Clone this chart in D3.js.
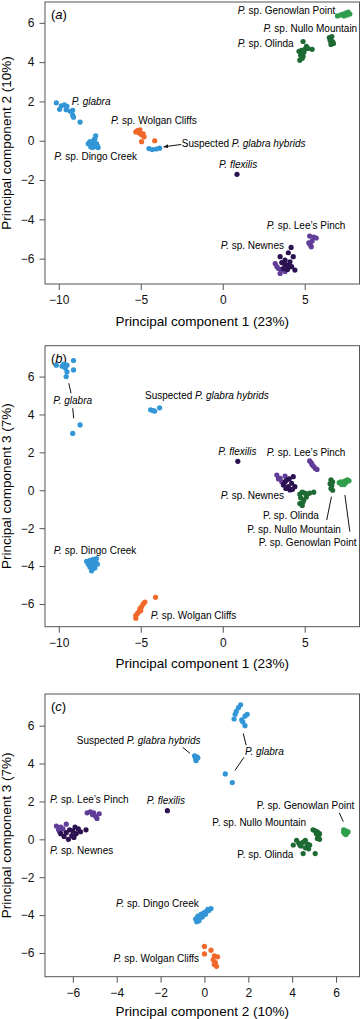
<!DOCTYPE html>
<html>
<head>
<meta charset="utf-8">
<script src="https://cdn.jsdelivr.net/npm/d3@7"></script>
<style>
  body { margin: 0; background: #fff; }
  svg { display: block; font-family: "Liberation Sans", Arial, sans-serif; }
</style>
</head>
<body>
<svg id="chart" width="363" height="1019"></svg>
<script>
// tick values
const pc1Ticks = [-10, -5, 0, 5];
const pc2Ticks = [-6, -4, -2, 0, 2, 4, 6];
const pc3Ticks = [-6, -4, -2, 0, 2, 4, 6];

// draw order of the groups
const groupOrder = ["glabra", "hybrids", "dingo", "wolgan", "lees", "newnes", "flexilis", "olinda", "nullo", "genowlan"];

// (a) PC1 vs PC2 : [group, pc1, pc2]
const pointsA = [
  ["glabra", -10.15, 1.93], ["glabra", -9.95, 1.6], ["glabra", -9.85, 1.78], ["glabra", -9.65, 1.82],
  ["glabra", -9.5, 1.75], ["glabra", -9.55, 1.58], ["glabra", -9.3, 1.5], ["glabra", -9.15, 1.55],
  ["glabra", -9.15, 1.3], ["glabra", -9.1, 1.2], ["glabra", -8.7, 0.95],
  ["dingo", -8.2, -0.15], ["dingo", -8.0, -0.1], ["dingo", -7.9, -0.2], ["dingo", -7.75, -0.3],
  ["dingo", -7.85, 0.05], ["dingo", -7.75, 0.25], ["dingo", -7.8, 0.1], ["dingo", -8.05, -0.3],
  ["dingo", -7.6, -0.35], ["dingo", -7.7, -0.15], ["dingo", -7.95, -0.35], ["dingo", -8.1, -0.05],
  ["dingo", -7.65, -0.25],
  ["hybrids", -4.5, -0.4], ["hybrids", -4.3, -0.45], ["hybrids", -4.05, -0.42], ["hybrids", -3.85, -0.38],
  ["wolgan", -5.3, 0.45], ["wolgan", -5.2, 0.52], ["wolgan", -5.05, 0.55], ["wolgan", -5.1, 0.4],
  ["wolgan", -4.95, 0.3], ["wolgan", -4.8, 0.2], ["wolgan", -4.85, 0.35], ["wolgan", -4.95, -0.05],
  ["wolgan", -4.15, 0.0],
  ["lees", 5.3, -4.85], ["lees", 5.55, -4.9], ["lees", 5.7, -4.95], ["lees", 5.25, -5.2],
  ["lees", 5.45, -5.1], ["lees", 5.35, -5.3], ["lees", 5.4, -5.4],
  ["lees", 3.2, -6.25], ["lees", 3.4, -6.5], ["lees", 3.5, -6.75], ["lees", 3.8, -6.65],
  ["lees", 3.3, -6.4], ["lees", 3.6, -6.55],
  ["newnes", 4.17, -5.43], ["newnes", 4.3, -5.9], ["newnes", 4.0, -5.7], ["newnes", 3.5, -5.9],
  ["newnes", 3.8, -6.07], ["newnes", 4.1, -6.16], ["newnes", 3.9, -6.33], ["newnes", 4.2, -6.41],
  ["newnes", 4.4, -6.58], ["newnes", 3.7, -6.5], ["newnes", 3.95, -6.55], ["newnes", 3.6, -6.2],
  ["newnes", 4.05, -6.35], ["newnes", 3.75, -6.25],
  ["flexilis", 0.87, -1.71],
  ["olinda", 4.9, 5.05], ["olinda", 5.1, 4.8], ["olinda", 5.45, 4.65], ["olinda", 4.65, 4.55],
  ["olinda", 4.8, 4.6], ["olinda", 4.95, 4.5], ["olinda", 4.75, 4.35], ["olinda", 4.9, 4.3],
  ["olinda", 4.7, 4.1], ["olinda", 4.85, 4.2], ["olinda", 5.0, 4.65], ["olinda", 5.2, 4.7],
  ["nullo", 6.5, 5.25], ["nullo", 6.65, 5.3], ["nullo", 6.55, 5.1], ["nullo", 6.7, 5.05],
  ["nullo", 6.6, 4.9], ["nullo", 6.75, 4.95],
  ["genowlan", 7.0, 6.35], ["genowlan", 7.2, 6.4], ["genowlan", 7.35, 6.45], ["genowlan", 7.5, 6.5],
  ["genowlan", 7.65, 6.55], ["genowlan", 7.75, 6.45], ["genowlan", 7.4, 6.35], ["genowlan", 7.6, 6.4]
];

// (b) PC1 vs PC3
const pointsB = [
  ["glabra", -10.15, 6.6], ["glabra", -9.8, 6.55], ["glabra", -9.7, 6.65], ["glabra", -9.5, 6.6],
  ["glabra", -9.6, 6.45], ["glabra", -9.1, 6.85], ["glabra", -9.1, 6.35], ["glabra", -9.5, 6.25],
  ["glabra", -9.55, 6.0], ["glabra", -8.7, 3.45], ["glabra", -9.15, 3.0],
  ["hybrids", -4.4, 4.25], ["hybrids", -4.25, 4.2], ["hybrids", -4.15, 4.18], ["hybrids", -3.85, 4.35],
  ["dingo", -8.3, -3.75], ["dingo", -8.1, -3.7], ["dingo", -7.9, -3.65], ["dingo", -7.7, -3.6],
  ["dingo", -7.8, -3.8], ["dingo", -8.0, -3.85], ["dingo", -8.2, -3.9], ["dingo", -7.65, -3.9],
  ["dingo", -7.9, -4.0], ["dingo", -8.1, -4.05], ["dingo", -7.8, -4.1], ["dingo", -8.0, -4.25],
  ["dingo", -7.95, -4.15], ["dingo", -7.75, -3.75], ["dingo", -8.05, -3.95],
  ["wolgan", -4.75, -5.9], ["wolgan", -4.85, -6.0], ["wolgan", -4.95, -6.15], ["wolgan", -5.05, -6.25],
  ["wolgan", -5.1, -6.4], ["wolgan", -5.2, -6.5], ["wolgan", -5.3, -6.6], ["wolgan", -5.3, -6.75],
  ["wolgan", -5.0, -6.35], ["wolgan", -4.1, -5.65],
  ["lees", 5.3, 1.55], ["lees", 5.4, 1.45], ["lees", 5.45, 1.35], ["lees", 5.55, 1.25],
  ["lees", 5.65, 1.15], ["lees", 5.75, 1.1],
  ["lees", 3.3, 0.8], ["lees", 3.5, 0.63], ["lees", 3.8, 0.75], ["lees", 3.6, 0.45], ["lees", 3.4, 0.6],
  ["newnes", 4.3, 0.72], ["newnes", 3.9, 0.54], ["newnes", 4.2, 0.37], ["newnes", 3.7, 0.28],
  ["newnes", 4.0, 0.19], ["newnes", 4.4, 0.19], ["newnes", 4.1, 0.02], ["newnes", 3.8, 0.45],
  ["newnes", 4.05, 0.6], ["newnes", 3.85, 0.1], ["newnes", 4.25, 0.05],
  ["flexilis", 0.92, 1.53],
  ["olinda", 4.7, -0.2], ["olinda", 4.85, -0.1], ["olinda", 5.0, -0.15], ["olinda", 5.15, -0.2],
  ["olinda", 5.3, -0.15], ["olinda", 5.55, -0.1], ["olinda", 4.75, -0.4], ["olinda", 4.95, -0.5],
  ["olinda", 5.1, -0.35], ["olinda", 4.7, -0.7], ["olinda", 4.85, -0.8], ["olinda", 4.9, -0.6],
  ["nullo", 6.6, 0.55], ["nullo", 6.7, 0.45], ["nullo", 6.55, 0.35], ["nullo", 6.65, 0.25],
  ["nullo", 6.6, 0.1], ["nullo", 6.7, 0.0],
  ["genowlan", 7.1, 0.4], ["genowlan", 7.2, 0.45], ["genowlan", 7.3, 0.35], ["genowlan", 7.45, 0.5],
  ["genowlan", 7.6, 0.55], ["genowlan", 7.5, 0.4], ["genowlan", 7.4, 0.3], ["genowlan", 7.7, 0.5],
  ["genowlan", 7.25, 0.3]
];

// (c) PC2 vs PC3
const pointsC = [
  ["glabra", 1.65, 7.1], ["glabra", 1.55, 6.95], ["glabra", 1.45, 6.75], ["glabra", 1.4, 6.6],
  ["glabra", 1.35, 6.35], ["glabra", 1.7, 6.3], ["glabra", 1.95, 6.6], ["glabra", 1.85, 6.5],
  ["glabra", 1.75, 6.2], ["glabra", 1.85, 6.0], ["glabra", 0.95, 3.45], ["glabra", 1.27, 3.0],
  ["hybrids", -0.45, 4.4], ["hybrids", -0.35, 4.35], ["hybrids", -0.4, 4.25], ["hybrids", -0.38, 4.15],
  ["hybrids", -0.3, 4.3],
  ["dingo", -0.4, -4.2], ["dingo", -0.35, -4.35], ["dingo", -0.3, -4.05], ["dingo", -0.2, -4.15],
  ["dingo", -0.15, -3.95], ["dingo", -0.05, -4.0], ["dingo", 0.0, -3.85], ["dingo", 0.1, -3.8],
  ["dingo", 0.2, -3.75], ["dingo", 0.3, -3.65], ["dingo", -0.25, -4.3], ["dingo", 0.05, -3.95],
  ["dingo", -0.1, -4.1], ["dingo", 0.15, -3.7],
  ["wolgan", 0.0, -5.65], ["wolgan", 0.3, -5.85], ["wolgan", 0.0, -6.05], ["wolgan", 0.45, -6.15],
  ["wolgan", 0.6, -6.2], ["wolgan", 0.4, -6.35], ["wolgan", 0.5, -6.5], ["wolgan", 0.55, -6.7],
  ["wolgan", 0.45, -6.6],
  ["lees", -5.35, 1.4], ["lees", -5.2, 1.45], ["lees", -5.1, 1.3], ["lees", -4.95, 1.2],
  ["lees", -4.9, 1.1], ["lees", -4.8, 1.35], ["lees", -5.05, 1.4],
  ["lees", -6.75, 0.7], ["lees", -6.55, 0.65], ["lees", -6.3, 0.8], ["lees", -6.65, 0.5],
  ["lees", -6.45, 0.55], ["lees", -6.6, 0.4],
  ["newnes", -6.55, 0.3], ["newnes", -6.3, 0.35], ["newnes", -6.15, 0.5], ["newnes", -5.9, 0.65],
  ["newnes", -5.65, 0.4], ["newnes", -5.4, 0.5], ["newnes", -6.05, 0.2], ["newnes", -5.85, 0.3],
  ["newnes", -6.2, 0.0], ["newnes", -5.95, 0.1], ["newnes", -6.4, 0.15], ["newnes", -5.75, 0.55],
  ["newnes", -6.0, 0.45],
  ["flexilis", -1.69, 1.51],
  ["olinda", 4.05, -0.3], ["olinda", 4.2, -0.05], ["olinda", 4.3, -0.2], ["olinda", 4.5, -0.15],
  ["olinda", 4.6, -0.05], ["olinda", 4.7, -0.25], ["olinda", 4.8, -0.3], ["olinda", 4.4, -0.35],
  ["olinda", 4.6, -0.45], ["olinda", 4.75, -0.5], ["olinda", 4.5, -0.75], ["olinda", 5.05, -0.75],
  ["olinda", 4.35, -0.3],
  ["nullo", 4.95, 0.5], ["nullo", 5.05, 0.45], ["nullo", 5.15, 0.4], ["nullo", 5.25, 0.3],
  ["nullo", 5.2, 0.2], ["nullo", 5.15, 0.05], ["nullo", 5.25, 0.0], ["nullo", 5.1, 0.3],
  ["genowlan", 6.35, 0.5], ["genowlan", 6.45, 0.45], ["genowlan", 6.5, 0.35], ["genowlan", 6.4, 0.3],
  ["genowlan", 6.55, 0.4], ["genowlan", 6.45, 0.25], ["genowlan", 6.35, 0.38]
];

// label texts (*...* = italic)
const labelText = {
  glabra: "*P. glabra*",
  hybrids: "Suspected *P. glabra hybrids*",
  dingo: "*P.* sp. Dingo Creek",
  wolgan: "*P.* sp. Wolgan Cliffs",
  flexilis: "*P. flexilis*",
  lees: "*P.* sp. Lee\u2019s Pinch",
  newnes: "*P.* sp. Newnes",
  olinda: "*P.* sp. Olinda",
  nullo: "*P.* sp. Nullo Mountain",
  genowlan: "*P.* sp. Genowlan Point",
  olindaUp: "P. sp. Olinda",
  nulloUp: "P. sp. Nullo Mountain",
  genowlanUp: "P. sp. Genowlan Point"
};

const colour = {
  glabra: "#3295d6", hybrids: "#3295d6", dingo: "#3295d6",
  wolgan: "#f1682a",
  lees: "#5f3d98", newnes: "#2c1150", flexilis: "#2c1150",
  olinda: "#1d6a33", nullo: "#1d6a33", genowlan: "#2f9e4d"
};

const svg = d3.select("#chart");
const left = 45, right = 359.5;

function richText(sel, str) {
  str.split("*").forEach((part, i) => {
    if (!part) return;
    sel.append("tspan").attr("font-style", i % 2 ? "italic" : null).text(part);
  });
}

function drawPanel(p) {
  const x = d3.scaleLinear().domain(p.xDomain).range([left, right]);
  const y = d3.scaleLinear().domain(p.yDomain).range([p.bottom, p.top]);
  const g = svg.append("g");

  g.append("text")
    .attr("x", left + 6).attr("y", p.top + 17)
    .attr("font-size", 13)
    .call(s => richText(s, "(*" + p.letter + "*)"));

  const sorted = p.points.slice().sort((a, b) => groupOrder.indexOf(a[0]) - groupOrder.indexOf(b[0]));
  g.selectAll("circle")
    .data(sorted)
    .join("circle")
    .attr("cx", d => x(d[1]))
    .attr("cy", d => y(d[2]))
    .attr("r", 2.6)
    .attr("fill", d => colour[d[0]]);

  p.lines.forEach(l => {
    g.append("line")
      .attr("x1", x(l[0])).attr("y1", y(l[1]))
      .attr("x2", x(l[2])).attr("y2", y(l[3]))
      .attr("stroke", "#111").attr("stroke-width", 1)
      .attr("marker-end", l[4] ? "url(#arrow)" : null);
  });

  p.labels.forEach(l => {
    g.append("text")
      .attr("x", x(l[1])).attr("y", y(l[2]))
      .attr("font-size", 10)
      .attr("text-anchor", l[3] || "start")
      .call(s => richText(s, labelText[l[0]]));
  });

  g.append("rect")
    .attr("x", left).attr("y", p.top)
    .attr("width", right - left).attr("height", p.bottom - p.top)
    .attr("fill", "none").attr("stroke", "#555").attr("stroke-width", 1);

  const xa = g.append("g")
    .attr("transform", `translate(0,${p.bottom})`)
    .call(d3.axisBottom(x).tickValues(p.xTicks).tickSize(6).tickPadding(5.5));
  const ya = g.append("g")
    .attr("transform", `translate(${left},0)`)
    .call(d3.axisLeft(y).tickValues(p.yTicks).tickSize(5.5).tickPadding(5));
  [xa, ya].forEach(a => {
    a.select(".domain").remove();
    a.selectAll(".tick line").attr("stroke", "#555");
    a.selectAll(".tick text").attr("font-size", 12).attr("fill", "#111")
      .attr("font-family", "Liberation Sans, Arial, sans-serif");
  });

  g.append("text")
    .attr("x", (left + right) / 2).attr("y", p.xTitleY)
    .attr("text-anchor", "middle").attr("font-size", 13.5)
    .text(p.xTitle);
  g.append("text")
    .attr("transform", `translate(11,${(p.top + p.bottom) / 2}) rotate(-90)`)
    .attr("text-anchor", "middle").attr("font-size", 13.5)
    .text(p.yTitle);
}

svg.append("defs").append("marker")
  .attr("id", "arrow")
  .attr("viewBox", "0 0 10 10")
  .attr("refX", 9).attr("refY", 5)
  .attr("markerWidth", 5).attr("markerHeight", 5)
  .attr("orient", "auto")
  .append("path").attr("d", "M0,1 L10,5 L0,9 Z").attr("fill", "#111");

drawPanel({
  letter: "a", points: pointsA,
  xDomain: [-10.84, 8.34], yDomain: [-7.29, 7.06], top: 2, bottom: 284,
  xTicks: pc1Ticks, yTicks: pc2Ticks,
  xTitle: "Principal component 1 (23%)", yTitle: "Principal component 2 (10%)", xTitleY: 326,
  labels: [
    ["genowlan", 0.91, 6.47], ["nullo", 2.48, 5.51], ["olinda", 0.91, 4.77],
    ["glabra", -9.21, 1.82], ["wolgan", -6.81, 0.85], ["hybrids", -2.5, -0.32],
    ["dingo", -10.27, -0.98], ["flexilis", -0.23, -1.39], ["lees", 2.68, -4.49],
    ["newnes", -0.12, -5.51]
  ],
  lines: [[-2.53, -0.19, -3.6, -0.31, true]]
});

drawPanel({
  letter: "b", points: pointsB,
  xDomain: [-10.84, 8.34], yDomain: [-7.2, 7.63], top: 345.7, bottom: 626.7,
  xTicks: pc1Ticks, yTicks: pc3Ticks,
  xTitle: "Principal component 1 (23%)", yTitle: "Principal component 3 (7%)", xTitleY: 668,
  labels: [
    ["glabra", -9.15, 4.53, "middle"], ["hybrids", -4.74, 4.84], ["flexilis", -0.27, 1.86],
    ["lees", 2.69, 1.81], ["newnes", -0.12, -0.46], ["olindaUp", 2.45, -1.51],
    ["nulloUp", 1.49, -2.24], ["genowlanUp", 2.2, -2.92], ["dingo", -10.31, -3.34],
    ["wolgan", -4.39, -6.79]
  ],
  lines: [
    [-9.39, 5.65, -9.25, 5.12], [-9.15, 4.33, -9.09, 3.8],
    [6.63, -0.34, 6.34, -1.57], [7.45, -0.25, 7.75, -2.18]
  ]
});

drawPanel({
  letter: "c", points: pointsC,
  xDomain: [-7.27, 7.07], yDomain: [-7.25, 7.67], top: 694, bottom: 976.7,
  xTicks: pc2Ticks, yTicks: pc3Ticks,
  xTitle: "Principal component 2 (10%)", yTitle: "Principal component 3 (7%)", xTitleY: 1016,
  labels: [
    ["glabra", 1.85, 4.45], ["hybrids", -5.82, 5.03], ["flexilis", -2.63, 1.86],
    ["lees", -7.04, 1.94], ["newnes", -7.04, -0.75], ["genowlanUp", 2.38, 1.61],
    ["nulloUp", 0.36, 0.72], ["olindaUp", 1.5, -1.01], ["dingo", -4.03, -3.56],
    ["wolgan", -4.15, -6.46]
  ],
  lines: [
    [1.77, 5.59, 1.9, 4.97], [1.8, 4.33, 1.39, 3.63],
    [-0.99, 4.85, -0.66, 4.54], [6.15, 1.4, 6.33, 0.93]
  ]
});
</script>
</body>
</html>
